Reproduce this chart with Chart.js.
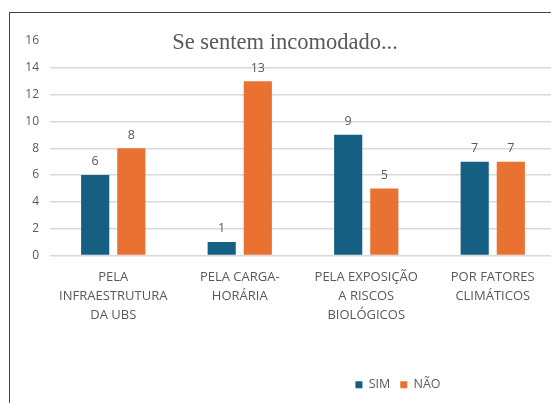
<!DOCTYPE html>
<html><head><meta charset="utf-8">
<script src="https://cdn.jsdelivr.net/npm/chart.js@4"></script>
<style>
html,body{margin:0;padding:0;background:#fff;width:551px;height:403px;overflow:hidden;}
#wrap{position:relative;width:551px;height:403px;overflow:hidden;}
#cv{position:absolute;left:0;top:0;}
#frame{position:absolute;left:9px;top:12px;width:700px;height:500px;border-left:1.5px solid #444;border-top:1.5px solid #444;pointer-events:none;}
</style></head>
<body><div id="wrap"><canvas id="cv" width="796" height="403"></canvas><div id="frame"></div></div>
<script>
const categories = [['PELA','INFRAESTRUTURA','DA UBS'],['PELA CARGA-','HORÁRIA'],['PELA EXPOSIÇÃO','A RISCOS','BIOLÓGICOS'],['POR FATORES','CLIMÁTICOS']];
const simValues = [6, 1, 9, 7];
const naoValues = [8, 13, 5, 7];
const seriesNames = ['SIM', 'NÃO'];
const yTicks = [0, 2, 4, 6, 8, 10, 12, 14, 16];
const chartTitle = 'Se sentem incomodado...';

const gray = '#595959';
const cv = document.getElementById('cv');
cv.style.width = '796px'; cv.style.height = '403px';

const labelPlugin = {
  id: 'vals',
  afterLayout(chart) {
    if (chart.legend) { chart.legend.left += 120; chart.legend.right += 120; }
  },
  afterDatasetsDraw(chart) {
    const ctx = chart.ctx;
    ctx.save();
    ctx.fillStyle = gray;
    ctx.font = '12.5px "Open Sans"';
    ctx.textAlign = 'center';
    ctx.textBaseline = 'bottom';
    chart.data.datasets.forEach((ds, i) => {
      chart.getDatasetMeta(i).data.forEach((bar, j) => {
        ctx.fillText(String(ds.data[j]), bar.x, bar.y - 7);
      });
    });
    ctx.restore();
  },
  afterDraw(chart) {
    const ctx = chart.ctx;
    ctx.save();
    ctx.fillStyle = gray;
    ctx.font = '22.5px "Liberation Serif"';
    ctx.textAlign = 'center';
    ctx.textBaseline = 'middle';
    ctx.fillText(chartTitle, 285, 43);
    ctx.restore();
  }
};

new Chart(cv, {
  type: 'bar',
  data: {
    labels: categories,
    datasets: [
      { label: seriesNames[0], data: simValues, backgroundColor: '#156082', categoryPercentage: 0.571, barPercentage: 0.78 },
      { label: seriesNames[1], data: naoValues, backgroundColor: '#E97132', categoryPercentage: 0.571, barPercentage: 0.78 }
    ]
  },
  options: {
    responsive: false,
    animation: false,
    devicePixelRatio: 1,
    layout: { padding: { left: 0, top: 41, right: 240, bottom: 2 } },
    plugins: {
      title: { display: false },
      tooltip: { enabled: false },
      legend: {
        position: 'bottom',
        labels: { boxWidth: 7, boxHeight: 7, color: gray, font: { family: 'Open Sans', size: 12.5 }, padding: 10 }
      }
    },
    scales: {
      x: {
        grid: { display: false },
        border: { display: false },
        ticks: { color: gray, font: { family: 'Open Sans', size: 13, lineHeight: 1.48 }, padding: 4, maxRotation: 0, autoSkip: false },
        afterFit: s => { s.height = 113; }
      },
      y: {
        min: 0, max: 16,
        afterBuildTicks: s => { s.ticks = yTicks.map(v => ({ value: v })); },
        grid: { color: c => c.tick && c.tick.value === 16 ? 'rgba(0,0,0,0)' : '#D9D9D9', lineWidth: 1.5, drawTicks: false },
        border: { display: false },
        ticks: { color: gray, font: { family: 'Open Sans', size: 12 }, padding: 11 },
        afterFit: s => { s.width = 50; }
      }
    }
  },
  plugins: [labelPlugin]
});
</script>
</body></html>
